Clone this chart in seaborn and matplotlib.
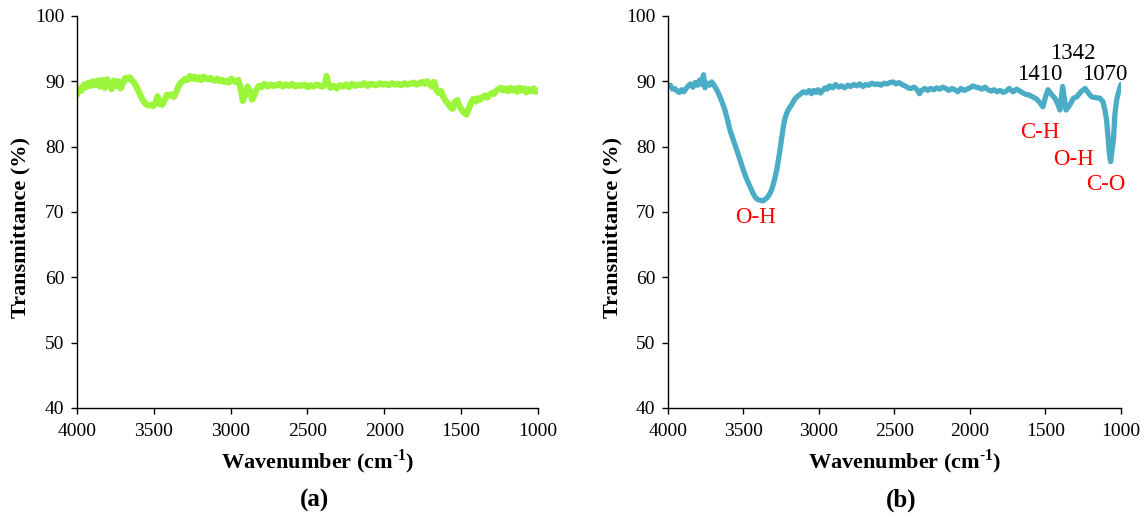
import numpy as np
import pandas as pd
import matplotlib
matplotlib.use('Agg')
import matplotlib.pyplot as plt
import seaborn as sns

# spectrum (a)
wn_a = [4000, 3985, 3970, 3955, 3940, 3925, 3910, 3895, 3880, 3865, 3850, 3835, 3820, 3805,
        3790, 3775, 3760, 3745, 3730, 3715, 3700, 3685, 3670, 3655, 3640, 3625, 3610, 3595,
        3580, 3565, 3550, 3535, 3520, 3505, 3490, 3475, 3460, 3445, 3430, 3415, 3400, 3385,
        3370, 3355, 3340, 3325, 3310, 3295, 3280, 3265, 3250, 3235, 3220, 3205, 3190, 3175,
        3160, 3145, 3130, 3115, 3100, 3085, 3070, 3055, 3040, 3025, 3010, 2995, 2980, 2965,
        2950, 2935, 2920, 2905, 2890, 2875, 2860, 2845, 2830, 2815, 2800, 2780, 2760, 2740,
        2720, 2700, 2680, 2660, 2640, 2620, 2600, 2580, 2560, 2540, 2520, 2500, 2480, 2460,
        2440, 2420, 2400, 2385, 2375, 2365, 2350, 2330, 2310, 2290, 2270, 2250, 2230, 2210,
        2190, 2170, 2150, 2130, 2110, 2090, 2070, 2050, 2030, 2010, 1990, 1970, 1950, 1930,
        1910, 1890, 1870, 1850, 1830, 1810, 1790, 1770, 1750, 1735, 1720, 1705, 1690, 1675,
        1660, 1645, 1630, 1615, 1600, 1585, 1570, 1555, 1540, 1525, 1510, 1495, 1480, 1465,
        1450, 1435, 1420, 1405, 1390, 1375, 1360, 1345, 1330, 1315, 1300, 1285, 1270, 1255,
        1240, 1225, 1210, 1195, 1180, 1165, 1150, 1135, 1120, 1105, 1090, 1075, 1060, 1045,
        1030, 1015, 1000]
tr_a = [87.9, 88.9, 88.6, 89.5, 89.1, 89.8, 89.3, 90.0, 89.4, 90.1, 89.2, 90.2, 89.0, 90.3,
        89.6, 88.8, 90.1, 89.3, 90.0, 88.9, 89.8, 90.5, 90.3, 90.6, 90.1, 89.7, 89.0, 88.3,
        87.5, 86.9, 86.5, 86.3, 86.4, 86.2, 86.6, 87.7, 86.5, 86.4, 87.1, 87.9, 87.8, 88.0,
        87.6, 88.3, 89.2, 89.8, 90.0, 90.4, 90.2, 90.8, 90.4, 90.7, 90.3, 90.6, 90.2, 90.7,
        90.4, 90.3, 90.5, 90.2, 90.1, 90.4, 90.0, 90.2, 89.9, 90.1, 89.8, 90.4, 90.1, 89.9,
        90.2, 89.0, 87.0, 87.9, 89.2, 88.6, 87.2, 87.9, 88.8, 89.3, 89.1, 89.6, 89.2, 89.5,
        89.3, 89.4, 89.6, 89.2, 89.5, 89.3, 89.6, 89.2, 89.4, 89.3, 89.5, 89.1, 89.4, 89.2,
        89.5, 89.3, 89.2, 89.6, 90.8, 89.7, 89.0, 89.3, 88.9, 89.4, 89.2, 89.5, 89.1, 89.6,
        89.3, 89.5, 89.4, 89.7, 89.3, 89.6, 89.5, 89.4, 89.7, 89.5, 89.6, 89.4, 89.7, 89.5,
        89.6, 89.4, 89.7, 89.5, 89.6, 89.8, 89.5, 89.7, 89.9, 89.6, 90.0, 89.6, 89.2, 89.9,
        88.6, 88.2, 88.5, 87.6, 87.0, 86.6, 86.0, 85.8, 86.9, 87.1, 86.2, 85.6, 85.2, 84.9,
        85.8, 86.7, 87.3, 86.9, 87.4, 87.2, 87.6, 87.8, 87.5, 87.9, 88.2, 88.1, 88.6, 88.8,
        89.0, 88.6, 88.9, 88.5, 89.0, 88.6, 88.9, 88.4, 89.0, 88.6, 88.9, 88.3, 88.8, 88.5,
        88.9, 88.4, 88.6]

# spectrum (b)
wn_b = [4000, 3985, 3970, 3955, 3940, 3925, 3910, 3895, 3880, 3865, 3850, 3835, 3820, 3805,
        3790, 3775, 3765, 3755, 3740, 3725, 3710, 3695, 3675, 3655, 3640, 3623, 3605, 3589,
        3567, 3545, 3523, 3501, 3480, 3457, 3440, 3424, 3407, 3391, 3370, 3347, 3330, 3313,
        3296, 3280, 3269, 3258, 3247, 3236, 3225, 3214, 3197, 3181, 3165, 3148, 3125, 3104,
        3085, 3065, 3050, 3035, 3020, 3005, 2990, 2975,
        2960, 2945, 2930, 2910, 2890, 2870, 2850, 2830, 2810, 2790, 2770, 2750, 2730, 2710,
        2690, 2670, 2650, 2630, 2610, 2590, 2570, 2550, 2530, 2510, 2490, 2470, 2450, 2430,
        2410, 2390, 2370, 2350, 2335, 2320, 2300, 2280, 2260, 2240, 2220, 2200, 2180, 2160,
        2140, 2120, 2100, 2080, 2060, 2040, 2020, 2000, 1980, 1960, 1940, 1920, 1900, 1880,
        1860, 1840, 1820, 1800, 1780, 1760, 1740, 1715, 1690, 1670, 1649, 1630, 1610, 1583,
        1560, 1540, 1517, 1500, 1483, 1460, 1437, 1420, 1404, 1386, 1375, 1364, 1350, 1333,
        1315, 1293, 1265, 1238, 1215, 1194, 1165, 1139, 1120, 1106, 1095, 1084, 1076, 1068,
        1059, 1050, 1040, 1028, 1018, 1007, 1000]
tr_b = [89.2, 89.4, 88.8, 88.9, 88.5, 88.3, 88.7, 88.4, 88.9, 89.3, 89.6, 89.1, 89.8, 89.4,
        90.2, 89.5, 91.0, 89.0, 89.7, 89.4, 89.9, 89.4, 88.6, 87.6, 86.7, 85.6, 84.0, 82.5,
        81.0, 79.5, 78.0, 76.4, 75.1, 73.9, 73.0, 72.3, 71.9, 71.8, 71.7, 72.1, 72.6, 73.4,
        74.8, 76.4, 77.9, 79.5, 81.3, 83.1, 84.3, 85.1, 85.9, 86.4, 87.1, 87.6, 88.0, 88.4,
        88.2, 88.6, 88.1, 88.6, 88.3, 88.7, 88.2, 88.6,
        89.0, 88.8, 89.3, 89.0, 89.5, 89.1, 89.3, 89.0, 89.4, 89.2, 89.5, 89.3, 89.6, 89.2,
        89.5, 89.4, 89.7, 89.5, 89.6, 89.4, 89.7, 89.6, 89.8, 89.9, 89.6, 89.8, 89.5, 89.3,
        89.0, 88.9, 89.1, 88.7, 88.1, 88.6, 88.9, 88.6, 88.9, 88.7, 89.0, 88.8, 89.1, 88.9,
        88.6, 88.9, 88.7, 88.4, 88.9, 88.6, 88.8, 89.0, 89.3, 89.1, 89.0, 88.8, 89.1, 88.7,
        88.5, 88.7, 88.4, 88.6, 88.3, 88.5, 88.9, 88.4, 88.8, 88.5, 88.2, 88.0, 87.9, 87.6,
        87.3, 86.8, 86.1, 87.6, 88.7, 88.0, 87.4, 86.6, 85.6, 89.2, 87.4, 85.6, 86.0, 86.6,
        87.4, 87.6, 88.4, 88.9, 88.2, 87.6, 87.5, 87.4, 86.9, 85.6, 84.0, 81.0, 78.8, 77.7,
        79.5, 81.0, 85.0, 87.2, 88.2, 89.0, 89.5]

ticks_x = [4000, 3500, 3000, 2500, 2000, 1500, 1000]
ticks_y = [40, 50, 60, 70, 80, 90, 100]
panel_tags = ['(a)', '(b)']

peak_labels = ['1410', '1342', '1070']
peak_pos = [(1536, 91.0), (1321, 94.3), (1109, 91.0)]
group_labels = ['O-H', 'C-H', 'O-H', 'C-O']
group_pos = [(3417, 69.2), (1536, 82.2), (1311, 78.0), (1099, 74.2)]

sns.set_style('ticks')
plt.rcParams['font.family'] = ['Liberation Serif', 'DejaVu Serif']
plt.rcParams['mathtext.fontset'] = 'custom'
plt.rcParams['mathtext.rm'] = 'Liberation Serif:bold'
plt.rcParams['mathtext.bf'] = 'Liberation Serif:bold'
plt.rcParams['text.color'] = 'black'
plt.rcParams['axes.labelcolor'] = 'black'

df_a = pd.DataFrame({'wn': wn_a, 'tr': tr_a})
df_b = pd.DataFrame({'wn': wn_b, 'tr': tr_b})

fig = plt.figure(figsize=(11.45, 5.15), dpi=100)
ax1 = fig.add_axes([0.0672, 0.208, 0.4026, 0.761])
ax2 = fig.add_axes([0.5834, 0.208, 0.3956, 0.761])

sns.lineplot(data=df_a, x='wn', y='tr', ax=ax1, color='#9BF53A', linewidth=4.5,
             sort=False, estimator=None)
sns.lineplot(data=df_b, x='wn', y='tr', ax=ax2, color='#4BACC6', linewidth=3.8,
             sort=False, estimator=None)

for ax, tag in zip([ax1, ax2], panel_tags):
    ax.set_xlim(4000, 1000)
    ax.set_ylim(40, 100)
    ax.set_xticks(ticks_x)
    ax.set_yticks(ticks_y)
    ax.tick_params(direction='out', length=4, width=1, labelsize=14, colors='black')
    ax.tick_params(axis='x', pad=7)
    ax.tick_params(axis='y', pad=5)
    for s in ['left', 'bottom']:
        ax.spines[s].set_color('black')
        ax.spines[s].set_linewidth(1)
    sns.despine(ax=ax)
    ax.set_xlabel(r'Wavenumber (cm$^{\text{-1}}$)', fontsize=16, fontweight='bold')
    ax.set_ylabel('Transmittance (%)', fontsize=16, fontweight='bold')
    bb = ax.get_position()
    wpx = bb.width * 1145
    ax.xaxis.label.set_va('center')
    ax.xaxis.set_label_coords(0.5 + 10 / wpx, -54 / 392)
    ax.yaxis.label.set_va('center')
    ax.yaxis.set_label_coords(-56 / wpx, 0.46)
    fig.text((bb.x0 + bb.x1) / 2 + 7 / 1145, 1 - 500 / 515, tag, ha='center', va='center',
             fontsize=18, fontweight='bold')

for lab, (x, y) in zip(peak_labels, peak_pos):
    ax2.text(x, y, lab, ha='center', va='center', fontsize=16.5, color='black')
for lab, (x, y) in zip(group_labels, group_pos):
    ax2.text(x, y, lab, ha='center', va='center', fontsize=16.5, color='red')

fig.savefig('out.png', dpi=100)
